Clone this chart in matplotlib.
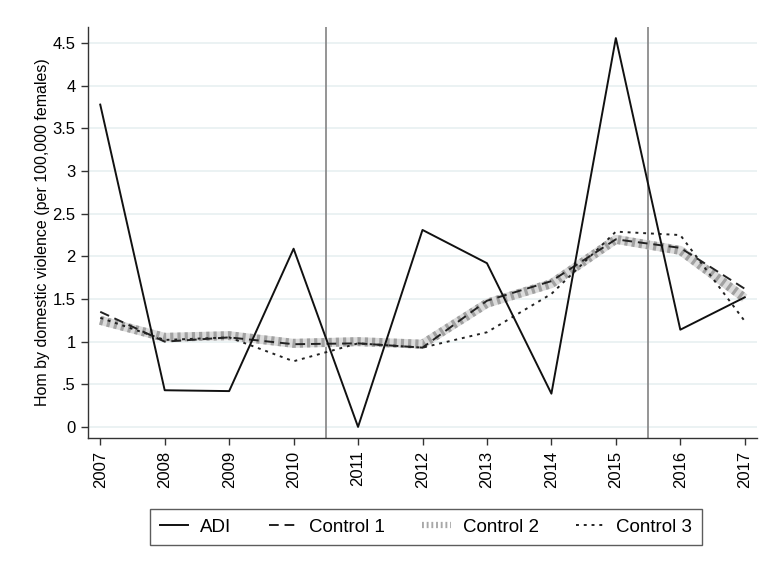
import matplotlib
matplotlib.use("Agg")
import matplotlib.pyplot as plt
from matplotlib.lines import Line2D

plt.rcParams['font.family'] = ['Liberation Sans', 'DejaVu Sans']

years = [2007, 2008, 2009, 2010, 2011, 2012, 2013, 2014, 2015, 2016, 2017]
adi = [3.78, 0.43, 0.42, 2.09, 0.0, 2.31, 1.92, 0.39, 4.56, 1.14, 1.52]
control1 = [1.35, 1.00, 1.05, 0.97, 0.98, 0.93, 1.48, 1.71, 2.20, 2.10, 1.62]
control2 = [1.25, 1.05, 1.07, 0.98, 1.00, 0.97, 1.45, 1.68, 2.20, 2.07, 1.51]
control3 = [1.28, 1.02, 1.05, 0.77, 0.98, 0.93, 1.11, 1.56, 2.29, 2.25, 1.24]
ytick_vals = [0, 0.5, 1, 1.5, 2, 2.5, 3, 3.5, 4, 4.5]
ytick_labels = ["0", ".5", "1", "1.5", "2", "2.5", "3", "3.5", "4", "4.5"]
vlines = [2010.5, 2015.5]

fig = plt.figure(figsize=(7.67, 5.62), dpi=100)
ax = fig.add_axes([88/767, 1-438/562, (757-88)/767, (438-27)/562])

for yv in ytick_vals:
    ax.axhline(yv, color='#e8f0f1', lw=1.2, zorder=0)
for xv in vlines:
    ax.axvline(xv, color='#8c8c8c', lw=1.3, zorder=1)

# Control 2: thick hatched grey line
ax.plot(years, control2, color='#dcdcdc', lw=6.5, solid_capstyle='butt', zorder=2)
ax.plot(years, control2, color='#a0a0a0', lw=6.5, dashes=(0.35, 0.45), dash_capstyle='butt', zorder=2)
ax.plot(years, control1, color='#222222', lw=1.4, dashes=(5, 3), zorder=3)
ax.plot(years, control3, color='#222222', lw=1.4, dashes=(1.5, 2.5), zorder=3)
ax.plot(years, adi, color='#111111', lw=1.4, zorder=4)

ax.set_xlim(2006.81, 2017.19)
ax.set_ylim(-0.13, 4.69)
ax.set_xticks(years)
ax.set_xticklabels([str(y) for y in years], rotation=90, fontsize=12)
ax.set_yticks(ytick_vals)
ax.set_yticklabels(ytick_labels, fontsize=12)
ax.set_ylabel("Hom by domestic violence (per 100,000 females)", fontsize=11.5, labelpad=2)
for s in ['top', 'right']:
    ax.spines[s].set_visible(False)
for s in ['left', 'bottom']:
    ax.spines[s].set_color('#333333')
    ax.spines[s].set_linewidth(1.0)
ax.tick_params(axis='both', length=5, width=1.0, color='#333333', pad=4)

h_adi = Line2D([], [], color='#111111', lw=1.4)
h_c1 = Line2D([], [], color='#222222', lw=1.4, dashes=(5, 3))
h_c2 = Line2D([], [], color='#a8a8a8', lw=4.5, dashes=(0.3, 0.45), dash_capstyle='butt')
h_c3 = Line2D([], [], color='#222222', lw=1.4, dashes=(1.5, 2.5))
leg = fig.legend([h_adi, h_c1, h_c2, h_c3],
                 ["ADI", "Control 1", "Control 2", "Control 3"],
                 loc='center', bbox_to_anchor=(426/767, 1-527/562), ncol=4,
                 fontsize=13.5, frameon=True, fancybox=False, edgecolor='#333333',
                 handlelength=1.5, columnspacing=2.0, borderpad=0.5, handletextpad=0.65)
leg.get_frame().set_linewidth(1.0)

fig.savefig("out.png", dpi=100, facecolor='white')
